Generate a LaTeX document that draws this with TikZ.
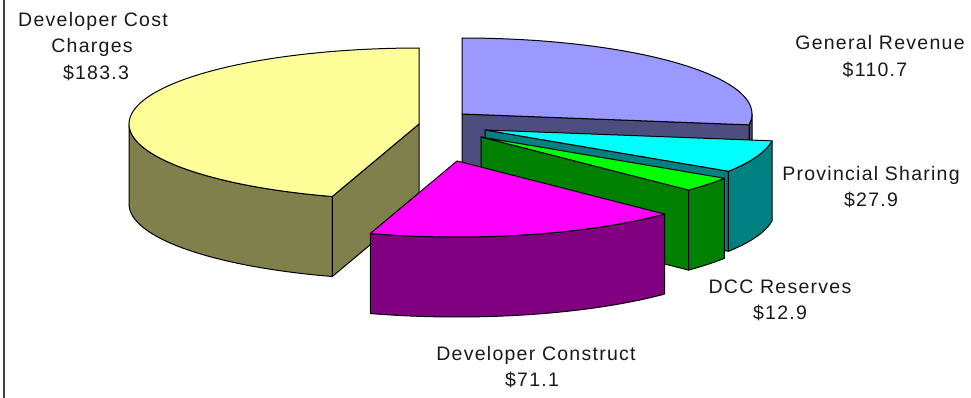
\documentclass[tikz,border=0pt]{standalone}
\usepackage{fontspec}
\newfontfamily\lblfont[LetterSpace=6.5]{Liberation Sans}
\definecolor{ytop}{RGB}{255,255,153}
\definecolor{yside}{RGB}{128,128,77}
\definecolor{btop}{RGB}{153,153,255}
\definecolor{bside}{RGB}{77,77,128}
\definecolor{ctop}{RGB}{0,255,255}
\definecolor{cside}{RGB}{0,128,128}
\definecolor{gtop}{RGB}{0,255,0}
\definecolor{gside}{RGB}{0,128,0}
\definecolor{mtop}{RGB}{255,0,255}
\definecolor{mside}{RGB}{128,0,128}
\def\pieRX{290}
\def\pieRY{76}
\def\pieDEP{80}
\newcommand{\pieside}[5]{%
  \filldraw[pieedge, fill=#5] plot[domain=#3:#4, samples=40] ({#1+\pieRX*cos(\x)},{#2-\pieRY*sin(\x)}) -- plot[domain=#4:#3, samples=40] ({#1+\pieRX*cos(\x)},{#2+\pieDEP-\pieRY*sin(\x)}) -- cycle;}
\newcommand{\pieradial}[4]{%
  \filldraw[pieedge, fill=#4] (#1,#2) -- ({#1+\pieRX*cos(#3)},{#2-\pieRY*sin(#3)}) -- ({#1+\pieRX*cos(#3)},{#2+\pieDEP-\pieRY*sin(#3)}) -- (#1,{#2+\pieDEP}) -- cycle;}
\newcommand{\pietop}[5]{%
  \filldraw[pieedge, fill=#5] (#1,#2) -- plot[domain=#3:#4, samples=80] ({#1+\pieRX*cos(\x)},{#2-\pieRY*sin(\x)}) -- cycle;}
\tikzset{
  pieedge/.style={draw=black, line width=1pt, line join=round},
  lbl/.style={font=\lblfont\fontsize{19.5}{26}\selectfont, inner sep=0pt, anchor=base, text=black!90}
}
\begin{document}
\begin{tikzpicture}[x=1pt, y=-1pt]
\useasboundingbox (0,0) rectangle (971,398);
\fill[white] (0,0) rectangle (971,398);
\draw[line width=2pt, black!75] (4,0) -- (4,398);
% General Revenue (back)
\pieside{462}{114}{-8.2}{0}{bside}
\pieradial{462}{114}{-8.2}{bside}
\pietop{462}{114}{-8.2}{90}{btop}
% Provincial Sharing
\pieradial{485}{130}{-32.9}{cside}
\pieside{485}{130}{-32.9}{-8.2}{cside}
\pietop{485}{130}{-32.9}{-8.2}{ctop}
% DCC Reserves
\pieradial{481}{137}{-44.3}{gside}
\pieside{481}{137}{-44.3}{-32.9}{gside}
\pietop{481}{137}{-44.3}{-32.9}{gtop}
% Developer Cost Charges
\pieside{419}{124}{180}{252.6}{yside}
\pieradial{419}{124}{252.6}{yside}
\pietop{419}{124}{90}{252.6}{ytop}
% Developer Construct
\pieside{457}{161}{-107.4}{-44.3}{mside}
\pietop{457}{161}{-107.4}{-44.3}{mtop}
% labels
\node[lbl] (dcc1) at (93,27) {Developer Cost};
\node[lbl] (dcc2) at (92,53) {Charges};
\node[lbl] (dcc3) at (96,80) {\$183.3};
\node[lbl] (gr1) at (880,50) {General Revenue};
\node[lbl] (gr2) at (875,77) {\$110.7};
\node[lbl] (ps1) at (871,181) {Provincial Sharing};
\node[lbl] (ps2) at (871,207) {\$27.9};
\node[lbl] (dr1) at (780,293) {DCC Reserves};
\node[lbl] (dr2) at (780,319) {\$12.9};
\node[lbl] (dc1) at (536,360) {Developer Construct};
\node[lbl] (dc2) at (532,386) {\$71.1};
\end{tikzpicture}
\end{document}
